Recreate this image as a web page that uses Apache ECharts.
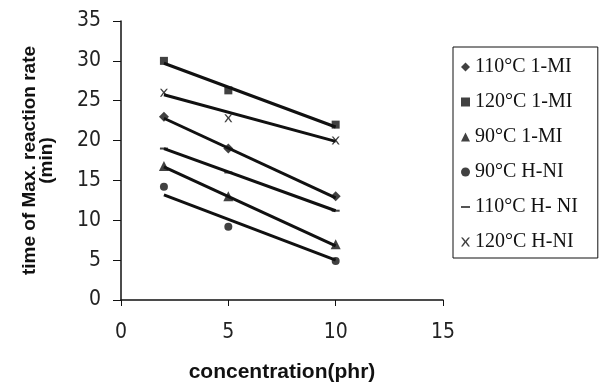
<!DOCTYPE html>
<html><head><meta charset="utf-8">
<script src="https://cdn.jsdelivr.net/npm/echarts@6/dist/echarts.min.js"></script>
<style>html,body{margin:0;padding:0;background:#fff}#c{width:600px;height:388px}</style>
</head><body><div id="c"></div>
<script>
// Data
const concentrations = [2, 5, 10];
const seriesNames = ['110°C 1-MI', '120°C 1-MI', '90°C 1-MI', '90°C H-NI', '110°C H- NI', '120°C H-NI'];
const vals110MI = [23.0, 19.0, 13.0];
const vals120MI = [30.0, 26.3, 22.0];
const vals90MI  = [16.8, 13.0, 7.0];
const vals90HNI = [14.2, 9.2, 4.9];
const vals110HNI = [19.0, 16.0, 11.2];
const vals120HNI = [26.0, 22.8, 20.0];
// Trendline endpoints (at x=2 and x=10)
const trendX = [2, 10];
const trend110MI = [22.8, 12.8];
const trend120MI = [29.7, 21.7];
const trend90MI  = [16.7, 6.8];
const trend90HNI = [13.2, 5.0];
const trend110HNI = [19.0, 11.2];
const trend120HNI = [25.75, 19.9];
const xTicks = [0, 5, 10, 15];
const yTicks = [0, 5, 10, 15, 20, 25, 30, 35];

const allVals = [vals110MI, vals120MI, vals90MI, vals90HNI, vals110HNI, vals120HNI];
const allTrends = [trend110MI, trend120MI, trend90MI, trend90HNI, trend110HNI, trend120HNI];
const symbols = [
  'diamond', 'rect', 'triangle', 'circle',
  'path://M0,0L10,0L10,2L0,2Z',
  'path://M0,0L2,0L5,3.5L8,0L10,0L6.2,4.6L10,10L8,10L5,5.8L2,10L0,10L3.8,4.6Z'
];
const sizes = [10, 8, 10, 8, [8, 2], 8];
const tickFont = "'Liberation Sans Narrow', 'DejaVu Sans Condensed', 'Liberation Sans'";

const chart = echarts.init(document.getElementById('c'));
const series = [];
allVals.forEach((v, i) => {
  series.push({
    name: seriesNames[i], type: 'scatter',
    symbol: symbols[i], symbolSize: sizes[i],
    itemStyle: {color: '#111'},
    data: concentrations.map((x, j) => [x, v[j]]),
    z: 3
  });
  series.push({
    name: 'trend' + i, type: 'line', symbol: 'none', silent: true,
    lineStyle: {color: '#111', width: 3},
    data: trendX.map((x, j) => [x, allTrends[i][j]]),
    z: 2
  });
});

chart.setOption({
  animation: false,
  backgroundColor: '#fff',
  textStyle: {fontFamily: 'Liberation Sans'},
  grid: {left: 121, right: 157, top: 21, bottom: 87},
  legend: {
    data: seriesNames, orient: 'vertical', left: 453, top: 47,
    itemGap: 15, itemWidth: 9, itemHeight: 9, padding: [10, 20, 6, 8],
    borderColor: '#111', borderWidth: 1,
    textStyle: {fontFamily: 'Liberation Serif', fontSize: 20, color: '#111'}
  },
  xAxis: {
    type: 'value', min: xTicks[0], max: xTicks[xTicks.length - 1], interval: 5,
    name: 'concentration(phr)', nameLocation: 'middle', nameGap: 62,
    nameTextStyle: {fontWeight: 'bold', fontSize: 21, color: '#111'},
    axisLine: {show: true, lineStyle: {color: '#111', width: 1.5}},
    axisTick: {show: true, inside: false, length: 6, lineStyle: {color: '#111'}},
    axisLabel: {fontSize: 21, color: '#222', margin: 22, fontFamily: tickFont},
    splitLine: {show: false}
  },
  yAxis: {
    type: 'value', min: yTicks[0], max: yTicks[yTicks.length - 1], interval: 5,
    name: 'time of Max. reaction rate\n(min)', nameLocation: 'middle', nameGap: 66, nameRotate: 90,
    nameTextStyle: {fontWeight: 'bold', fontSize: 19, color: '#111', lineHeight: 17},
    axisLine: {show: true, lineStyle: {color: '#111', width: 1.5}},
    axisTick: {show: true, inside: false, length: 8, lineStyle: {color: '#111'}},
    axisLabel: {fontSize: 21, color: '#222', margin: 20, fontFamily: tickFont},
    splitLine: {show: false}
  },
  series: series
});
</script></body></html>
